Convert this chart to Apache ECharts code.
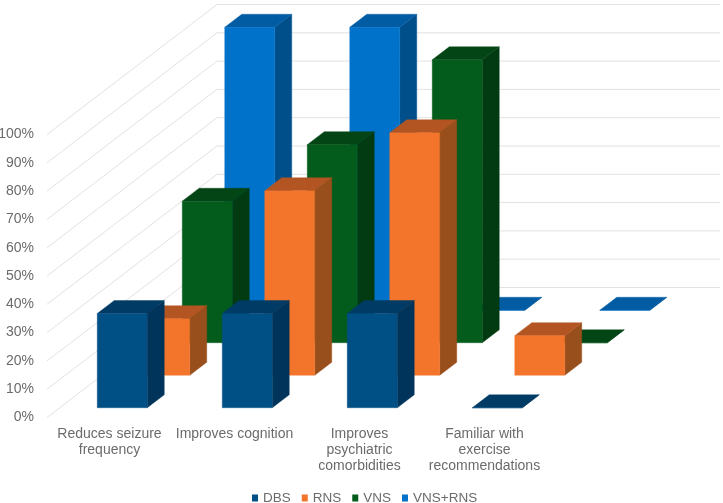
<!DOCTYPE html>
<html><head><meta charset="utf-8">
<script src="https://cdn.jsdelivr.net/npm/echarts@6/dist/echarts.min.js"></script>
<style>html,body{margin:0;padding:0;background:#fff}#c{width:723px;height:503px}</style>
</head><body><div id="c"></div>
<script>
const categories = ['Reduces seizure\nfrequency','Improves cognition','Improves\npsychiatric\ncomorbidities','Familiar with\nexercise\nrecommendations'];
const yTicks = [0,10,20,30,40,50,60,70,80,90,100];
const seriesNames = ['DBS','RNS','VNS','VNS+RNS'];
const dbs = [33.3,33.3,33.3,0];
const rns = [20,65.2,85.7,14];
const vns = [50,70,100,0];
const vnsRns = [100,100,0,0];

const depthX = 170, depthY = 130;
const slotX = depthX/4, slotY = depthY/4, gapFrac = 0.3, wallRight = 3;
const barFrac = 0.4;
const palette = {
  'DBS':{front:'#004f85',side:'#00345a',top:'#003b66'},
  'RNS':{front:'#f3752b',side:'#984f1c',top:'#b35522'},
  'VNS':{front:'#045c1c',side:'#023b11',top:'#034514'},
  'VNS+RNS':{front:'#0072c9',side:'#004f8a',top:'#015ca3'}
};
function barSeries(name, values, slot){
  const c = palette[name];
  return {
    type:'custom', name, coordinateSystem:'cartesian2d', clip:false,
    itemStyle:{color:c.front},
    encode:{x:0,y:1},
    data:values.map((v,i)=>[i,v]),
    renderItem(params, api){
      const w = api.size([1,0])[0]*barFrac;
      const base = api.coord([api.value(0),0]);
      const tip = api.coord([api.value(0),api.value(1)]);
      const ox = slotX*(slot+gapFrac), oy = -slotY*(slot+gapFrac);
      const dx = slotX*(1-2*gapFrac), dy = -slotY*(1-2*gapFrac);
      const x0 = base[0]-w/2+ox, x1 = x0+w, yb = base[1]+oy, yt = tip[1]+oy;
      const poly = (pts,fill)=>({type:'polygon',shape:{points:pts},style:{fill,stroke:fill,lineWidth:0.4}});
      return {type:'group',children:[
        poly([[x1,yb],[x1+dx,yb+dy],[x1+dx,yt+dy],[x1,yt]],c.side),
        poly([[x0,yt],[x1,yt],[x1+dx,yt+dy],[x0+dx,yt+dy]],c.top),
        poly([[x0,yb],[x1,yb],[x1,yt],[x0,yt]],c.front)
      ]};
    }
  };
}
const gridSeries = {
  type:'custom', name:'walls', coordinateSystem:'cartesian2d', clip:false, silent:true,
  encode:{x:0,y:1},
  data:yTicks.map(t=>[0,t]),
  renderItem(params, api){
    const rect = params.coordSys;
    const y = api.coord([0,api.value(1)])[1];
    return {type:'polyline',shape:{points:[[rect.x,y],[rect.x+depthX,y-depthY],[rect.x+rect.width+depthX+wallRight,y-depthY]]},
      style:{fill:null,stroke:'#e2e2e2',lineWidth:1}};
  }
};
const chart = echarts.init(document.getElementById('c'),null,{renderer:'canvas'});
chart.setOption({
  animation:false,
  backgroundColor:'#fff',
  textStyle:{fontFamily:'Liberation Sans'},
  grid:{left:47,top:134.5,width:500,height:283,containLabel:false,outerBoundsMode:'none'},
  xAxis:{type:'category',data:categories,axisLine:{show:false},axisTick:{show:false},splitLine:{show:false},
    axisLabel:{interval:0,color:'#6b6b6b',fontSize:14,lineHeight:16,margin:9,fontFamily:'Liberation Sans'}},
  yAxis:{type:'value',min:0,max:100,interval:10,axisLine:{show:false},axisTick:{show:false},splitLine:{show:false},
    axisLabel:{color:'#6b6b6b',fontSize:14,margin:13,formatter:'{value}%',fontFamily:'Liberation Sans'}},
  legend:{data:seriesNames,bottom:-2,left:252,padding:0,itemWidth:6,itemHeight:7,itemGap:11,icon:'rect',
    textStyle:{color:'#6b6b6b',fontSize:13.5,fontFamily:'Liberation Sans'}},
  series:[gridSeries,
    barSeries('VNS+RNS',vnsRns,3),
    barSeries('VNS',vns,2),
    barSeries('RNS',rns,1),
    barSeries('DBS',dbs,0)]
});
</script></body></html>
